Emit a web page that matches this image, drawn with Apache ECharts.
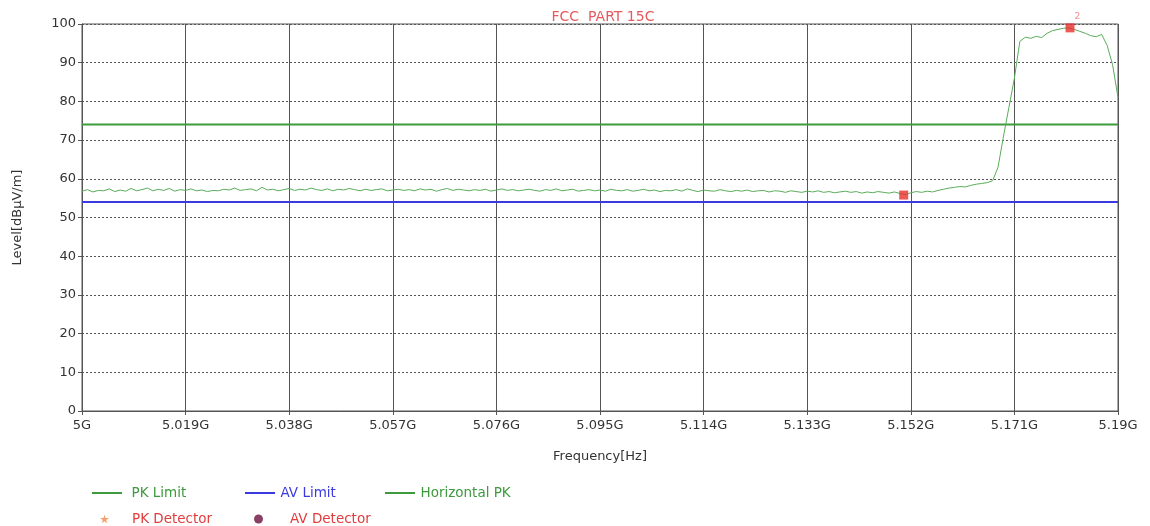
<!DOCTYPE html>
<html>
<head>
<meta charset="utf-8">
<script src="https://cdn.jsdelivr.net/npm/echarts@6/dist/echarts.min.js"></script>
<style>html,body{margin:0;padding:0;background:#fff}#c{width:1150px;height:526px}</style>
</head>
<body>
<div id="c"></div>
<script>
// Frequency axis (GHz)
const freqStart = 5.000;
const freqStep = 0.001;
const xTickLabels = ['5G','5.019G','5.038G','5.057G','5.076G','5.095G','5.114G','5.133G','5.152G','5.171G','5.19G'];
const yTickLabels = ['0','10','20','30','40','50','60','70','80','90','100'];
// Horizontal PK trace (dBuV/m), one value per 1 MHz from 5.000 GHz to 5.190 GHz
const horizontalPK = [
56.8,57.2,56.6,57.0,56.9,57.4,56.7,57.1,56.8,57.5,56.9,57.2,57.6,56.9,57.3,57.0,57.5,56.8,57.2,57.0,
57.4,56.9,57.1,56.7,57.0,56.9,57.3,57.1,57.6,57.0,57.2,57.4,56.9,57.8,57.1,57.3,56.9,57.2,57.5,57.0,
57.3,57.1,57.6,57.2,57.0,57.4,56.9,57.3,57.1,57.5,57.2,56.9,57.3,57.0,57.2,57.4,56.9,57.1,57.3,57.0,
57.2,56.9,57.4,57.1,57.3,56.8,57.2,57.5,57.0,57.3,57.1,56.9,57.2,57.0,57.3,56.8,57.1,57.4,57.0,57.2,
56.9,57.1,57.3,57.0,56.8,57.2,57.0,57.4,56.9,57.1,57.3,56.8,57.0,57.2,56.9,57.1,56.8,57.3,57.0,56.9,
57.2,56.8,57.0,57.3,56.9,57.1,56.7,57.0,56.9,57.2,56.8,57.4,57.0,56.7,57.1,56.9,56.8,57.2,56.9,56.7,
57.0,56.8,57.1,56.7,56.9,57.0,56.6,56.9,56.8,56.5,56.9,56.7,56.5,56.8,56.6,56.9,56.5,56.7,56.4,56.6,
56.8,56.5,56.7,56.3,56.6,56.4,56.7,56.5,56.3,56.6,56.2,55.9,56.4,56.7,56.5,56.8,56.6,57.0,57.3,57.6,
57.8,58.0,57.9,58.3,58.6,58.8,59.0,59.5,63.0,71.0,78.5,86.0,95.5,96.6,96.3,96.8,96.5,97.6,98.3,98.6,
98.9,99.0,98.6,98.1,97.6,97.0,96.7,97.3,94.5,89.5,81.0
];
// Limits (dBuV/m)
const pkLimit = 74;
const avLimit = 54;
// PK detector markers: [freq GHz, level, label]
const pkDetFreq = [5.1507, 5.1812];
const pkDetLevel = [55.8, 99.0];
const pkDetLabel = ['1', '2'];

const toX = f => Math.round((f - freqStart) * 100000) / 100; // MHz offset
const traceData = horizontalPK.map((v, i) => [toX(freqStart + i * freqStep), v]);
const xMax = toX(freqStart + (horizontalPK.length - 1) * freqStep);
const xInterval = xMax / (xTickLabels.length - 1);

const chart = echarts.init(document.getElementById('c'));
const FONT = 'DejaVu Sans, Verdana, sans-serif';
const starPath = 'path://M50,0 L61,35 L98,35 L68,57 L79,91 L50,70 L21,91 L32,57 L2,35 L39,35 Z';
const linePath = 'path://M0,0 L30,0 L30,2 L0,2 Z';

function lineLegend(name, left, color, pad) {
  return {
    left: left, top: 481, itemWidth: 31, itemHeight: 2, icon: linePath,
    textStyle: { fontSize: 13.5, fontFamily: FONT, color: color, padding: [0, 0, 0, pad] }, itemGap: 0,
    data: [{ name: name, itemStyle: { color: color } }]
  };
}
function dotLegend(name, left, icon, color, size, pad) {
  return {
    left: left, top: 507, itemWidth: size, itemHeight: size, icon: icon,
    textStyle: { fontSize: 13.5, fontFamily: FONT, color: '#e03c3c', padding: [0, 0, 0, pad] },
    data: [{ name: name, itemStyle: { color: color } }]
  };
}

chart.setOption({
  animation: false,
  textStyle: { fontFamily: FONT },
  title: {
    text: 'FCC  PART 15C', left: 598, top: 5, textAlign: 'center',
    textStyle: { color: '#e65a5e', fontSize: 14, fontWeight: 'normal', fontFamily: FONT }
  },
  grid: { left: 82, right: 32, top: 24, bottom: 115, show: true, borderColor: '#555', borderWidth: 1 },
  legend: [
    lineLegend('PK Limit', 87, '#3d9a3d', 4),
    lineLegend('AV Limit', 240, '#3a3ae0', 0),
    lineLegend('Horizontal PK', 380, '#3d9a3d', 0),
    dotLegend('PK Detector', 95, starPath, '#f0884a', 9, 18),
    dotLegend('AV Detector', 249, 'circle', '#6a1040', 9, 22)
  ],
  xAxis: {
    type: 'value', min: 0, max: xMax, interval: xInterval,
    name: 'Frequency[Hz]', nameLocation: 'middle', nameGap: 39,
    nameTextStyle: { color: '#333', fontSize: 13, fontFamily: FONT },
    axisLine: { show: true, lineStyle: { color: '#555' } },
    axisTick: { show: true, length: 4, lineStyle: { color: '#555' } },
    axisLabel: {
      color: '#333', fontSize: 13, margin: 8, fontFamily: FONT,
      formatter: v => xTickLabels[Math.round(v / xInterval)] || ''
    },
    splitLine: { show: true, lineStyle: { color: '#555', width: 1, type: 'solid' } }
  },
  yAxis: {
    type: 'value', min: 0, max: 100, interval: 10,
    name: 'Level[dBµV/m]', nameLocation: 'middle', nameGap: 58,
    nameTextStyle: { color: '#333', fontSize: 13, fontFamily: FONT },
    axisLine: { show: true, lineStyle: { color: '#555' } },
    axisTick: { show: true, length: 4, lineStyle: { color: '#555' } },
    axisLabel: { color: '#333', fontSize: 13, margin: 6, fontFamily: FONT, formatter: v => yTickLabels[Math.round(v / 10)] },
    splitLine: { show: true, lineStyle: { color: '#555', width: 1, type: [2, 2] } }
  },
  series: [
    {
      name: 'PK Limit', type: 'line', symbol: 'none', color: '#3d9a3d',
      lineStyle: { width: 2, color: '#3d9a3d' },
      data: [[0, pkLimit], [xMax, pkLimit]], z: 3
    },
    {
      name: 'AV Limit', type: 'line', symbol: 'none', color: '#3a3ae0',
      lineStyle: { width: 2, color: '#3a3ae0' },
      data: [[0, avLimit], [xMax, avLimit]], z: 3
    },
    {
      name: 'Horizontal PK', type: 'line', symbol: 'none', color: '#3d9a3d',
      lineStyle: { width: 1, color: '#5aac5a' },
      data: traceData, z: 4
    },
    {
      name: 'PK Detector', type: 'scatter', symbol: 'rect', symbolSize: 9,
      itemStyle: { color: '#e8302c' }, z: 5,
      data: pkDetFreq.map((f, i) => ({
        value: [toX(f), pkDetLevel[i]],
        label: { show: i === 1, formatter: pkDetLabel[i], position: [9, -11], color: '#f07070', fontSize: 9 }
      }))
    },
    {
      name: 'AV Detector', type: 'scatter', symbol: 'circle', symbolSize: 9,
      itemStyle: { color: '#6a1040' }, data: []
    }
  ]
});
</script>
</body>
</html>
